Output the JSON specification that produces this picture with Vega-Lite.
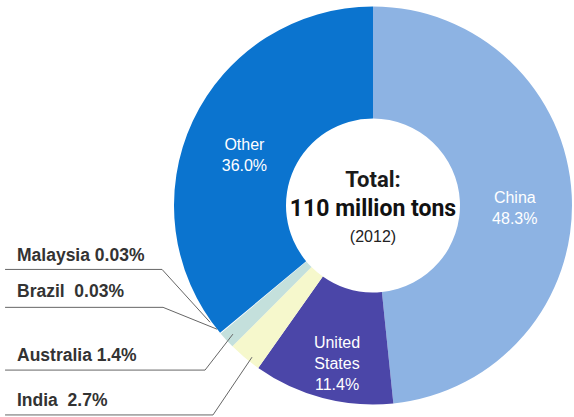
{
  "$schema": "https://vega.github.io/schema/vega-lite/v6.json",
  "width": 574,
  "height": 417,
  "padding": 0,
  "autosize": {"type": "fit", "contains": "padding"},
  "background": "#ffffff",
  "config": {"view": {"stroke": null}, "font": "Liberation Sans"},
  "datasets": {
    "shares": [
      {"country": "China", "ord": 1, "value": 48.3, "label": "China\n48.3%"},
      {"country": "United States", "ord": 2, "value": 11.4, "label": "United\nStates\n11.4%"},
      {"country": "India", "ord": 3, "value": 2.7, "label": ""},
      {"country": "Australia", "ord": 4, "value": 1.4, "label": ""},
      {"country": "Brazil", "ord": 5, "value": 0.03, "label": ""},
      {"country": "Malaysia", "ord": 6, "value": 0.03, "label": ""},
      {"country": "Other", "ord": 7, "value": 36.0, "label": "Other\n36.0%"}
    ],
    "leaders": [
      {"country": "Malaysia", "pt": 0, "u": -1.849, "v": -0.322},
      {"country": "Malaysia", "pt": 1, "u": -1.060, "v": -0.322},
      {"country": "Malaysia", "pt": 2, "u": -0.819, "v": -0.588},
      {"country": "Brazil", "pt": 0, "u": -1.849, "v": -0.513},
      {"country": "Brazil", "pt": 1, "u": -1.055, "v": -0.513},
      {"country": "Brazil", "pt": 2, "u": -0.784, "v": -0.623},
      {"country": "Australia", "pt": 0, "u": -1.849, "v": -0.829},
      {"country": "Australia", "pt": 1, "u": -0.844, "v": -0.829},
      {"country": "Australia", "pt": 2, "u": -0.704, "v": -0.648},
      {"country": "India", "pt": 0, "u": -1.849, "v": -1.055},
      {"country": "India", "pt": 1, "u": -0.804, "v": -1.055},
      {"country": "India", "pt": 2, "u": -0.608, "v": -0.764}
    ],
    "sidelabels": [
      {"text": "Malaysia 0.03%", "u": -1.789, "v": -0.256},
      {"text": "Brazil\u00a0 0.03%", "u": -1.789, "v": -0.437},
      {"text": "Australia 1.4%", "u": -1.789, "v": -0.759},
      {"text": "India\u00a0 2.7%", "u": -1.789, "v": -0.985}
    ]
  },
  "layer": [
    {
      "data": {"name": "shares"},
      "mark": {"type": "arc", "outerRadius": 199, "innerRadius": 87},
      "encoding": {
        "x": {"datum": 0, "type": "quantitative", "scale": {"domain": [-1.8744, 1.0101], "nice": false, "zero": false}, "axis": null},
        "y": {"datum": 0, "type": "quantitative", "scale": {"domain": [-1.0603, 1.0352], "nice": false, "zero": false}, "axis": null},
        "theta": {"field": "value", "type": "quantitative", "stack": true},
        "order": {"field": "ord", "type": "quantitative"},
        "color": {
          "field": "country", "type": "nominal", "legend": null,
          "scale": {
            "domain": ["China", "United States", "India", "Australia", "Brazil", "Malaysia", "Other"],
            "range": ["#8DB3E3", "#4B46A8", "#F6F8CC", "#C4E0DC", "#FFFFFF", "#FFFFFF", "#0B74CF"]
          }
        }
      }
    },
    {
      "data": {"name": "shares"},
      "mark": {"type": "text", "radius": 142, "lineBreak": "\n", "fontSize": 16, "lineHeight": 21, "color": "#FFFFFF", "align": "center", "baseline": "middle"},
      "encoding": {
        "x": {"datum": 0, "type": "quantitative"},
        "y": {"datum": 0, "type": "quantitative"},
        "theta": {"field": "value", "type": "quantitative", "stack": true},
        "order": {"field": "ord", "type": "quantitative"},
        "text": {"field": "label"}
      }
    },
    {
      "data": {"values": [{"t": "Total:", "u": 0, "v": 0.131}]},
      "mark": {"type": "text", "font": "Roboto", "fontWeight": "bold", "fontSize": 22, "color": "#1a1a1a", "align": "center", "baseline": "middle"},
      "encoding": {
        "x": {"field": "u", "type": "quantitative"},
        "y": {"field": "v", "type": "quantitative"},
        "text": {"field": "t"}
      }
    },
    {
      "data": {"values": [{"t": "110 million tons", "u": 0, "v": -0.02}]},
      "mark": {"type": "text", "font": "Roboto", "fontWeight": "bold", "fontSize": 23, "color": "#111111", "align": "center", "baseline": "middle"},
      "encoding": {
        "x": {"field": "u", "type": "quantitative"},
        "y": {"field": "v", "type": "quantitative"},
        "text": {"field": "t"}
      }
    },
    {
      "data": {"values": [{"t": "(2012)", "u": 0, "v": -0.161}]},
      "mark": {"type": "text", "fontSize": 16, "color": "#222222", "align": "center", "baseline": "middle"},
      "encoding": {
        "x": {"field": "u", "type": "quantitative"},
        "y": {"field": "v", "type": "quantitative"},
        "text": {"field": "t"}
      }
    },
    {
      "data": {"name": "leaders"},
      "mark": {"type": "line", "color": "#666666", "strokeWidth": 1},
      "encoding": {
        "x": {"field": "u", "type": "quantitative"},
        "y": {"field": "v", "type": "quantitative"},
        "detail": {"field": "country"},
        "order": {"field": "pt", "type": "quantitative"}
      }
    },
    {
      "data": {"name": "sidelabels"},
      "mark": {"type": "text", "fontSize": 17.5, "fontWeight": "bold", "color": "#333333", "align": "left", "baseline": "middle"},
      "encoding": {
        "x": {"field": "u", "type": "quantitative"},
        "y": {"field": "v", "type": "quantitative"},
        "text": {"field": "text"}
      }
    }
  ]
}
